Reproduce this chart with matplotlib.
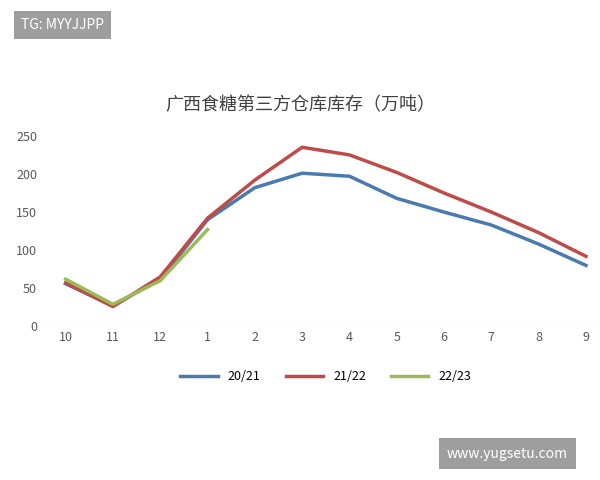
import matplotlib.pyplot as plt

plt.rcParams['font.family'] = ['Noto Sans CJK SC', 'DejaVu Sans']

months = ['10', '11', '12', '1', '2', '3', '4', '5', '6', '7', '8', '9']
s2021 = [56, 27, 62, 140, 182, 201, 197, 168, 150, 133, 108, 80]
s2122 = [57, 26, 65, 142, 192, 235, 225, 202, 175, 150, 123, 92]
s2223 = [62, 29, 60, 127]

fig = plt.figure(figsize=(6, 4.8), dpi=100)
ax = fig.add_axes([0.07, 0.32, 0.946, 0.397])

x = list(range(len(months)))
ax.plot(x, s2021, color='#4a7ab0', lw=2.5, label='20/21')
ax.plot(x, s2122, color='#bf4b48', lw=2.5, label='21/22')
ax.plot(x[:len(s2223)], s2223, color='#9bbb59', lw=2.5, label='22/23')

ax.set_ylim(0, 250)
ax.set_yticks(range(0, 251, 50))
ax.set_xlim(-0.5, len(months) - 0.5)
ax.set_xticks(x)
ax.set_xticklabels(months)
for s in ax.spines.values():
    s.set_visible(False)
ax.axhline(0, color='#d9d9d9', lw=0.8)
ax.tick_params(length=0, labelsize=9, colors='#595959')

ax.legend(loc='upper center', bbox_to_anchor=(0.5, -0.17), ncol=3, frameon=False,
          fontsize=9, handlelength=3)

fig.text(0.5, 0.77, '广西食糖第三方仓库库存（万吨）', ha='center', fontsize=13, color='#404040')

fig.text(0.035, 0.948, 'TG: MYYJJPP', fontsize=10, color='white', va='center',
         bbox=dict(boxstyle='square,pad=0.5', fc='#9e9e9e', ec='none'))
fig.text(0.745, 0.055, 'www.yugsetu.com', fontsize=10, color='white', va='center',
         bbox=dict(boxstyle='square,pad=0.6', fc='#9e9e9e', ec='none'))

fig.savefig('out.png')
